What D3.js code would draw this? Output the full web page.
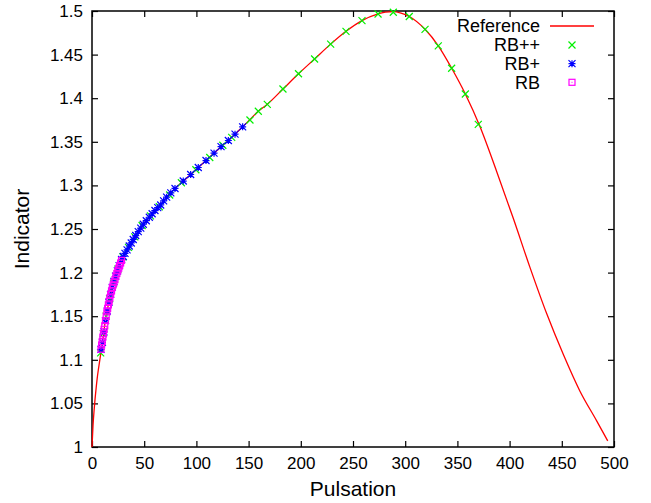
<!DOCTYPE html>
<html><head><meta charset="utf-8">
<script src="https://cdn.jsdelivr.net/npm/d3@7"></script>
<style>body{margin:0;background:#fff}svg{display:block}text{font-family:"Liberation Sans",Arial,Helvetica,sans-serif}</style>
</head><body><svg id="c" width="651" height="503"></svg>
<script>
const xTicks = [0,50,100,150,200,250,300,350,400,450,500];
const yTicks = [1,1.05,1.1,1.15,1.2,1.25,1.3,1.35,1.4,1.45,1.5];

const refX = [0,1,2,3,4,5,6,7,8,9,10,11,12.4,14,15.5,17,18.8,21,23.5,26,28.3,31.6,35.7,39.5,44.3,49.1,54.9,60.3,65.8,71.5,79.5,87.4,94.5,101.8,109.2,116.9,123.6,130.6,137,144.3,151.3,159.3,167.9,182.9,197.8,213.2,228.6,243.3,258.6,274,281,288.6,296,303.9,319,331.7,344.5,357.6,371.6,387.6,403.6,419.5,435.5,451.5,467.4,483.4,494];
const refY = [1,1.025,1.042,1.056,1.068,1.079,1.088,1.096,1.104,1.112,1.12,1.128,1.142,1.153,1.162,1.171,1.18,1.19,1.2,1.208,1.215,1.222,1.2305,1.238,1.247,1.2555,1.2635,1.2712,1.2775,1.2865,1.2965,1.305,1.3125,1.3205,1.3285,1.337,1.3444,1.3515,1.3588,1.3672,1.3755,1.385,1.393,1.4105,1.428,1.445,1.462,1.4767,1.489,1.4966,1.4988,1.4992,1.4975,1.4937,1.479,1.46,1.4343,1.4048,1.3675,1.316,1.262,1.206,1.153,1.106,1.064,1.03,1.007];

const rbppX = [8.3,10.8,13.6,16.9,20.6,24.8,29.6,35,41,48,56,64.5,74.4,85.6,99.5,112.8,125.3,133.8,151.3,159.3,167.9,182.9,197.8,213.2,228.6,243.3,258.6,274,288.6,303.9,319,331.7,344.5,357.6,370];
const rbppY = [1.108,1.13,1.15,1.17,1.188,1.204,1.218,1.229,1.241,1.254,1.265,1.2755,1.289,1.303,1.318,1.332,1.346,1.355,1.375,1.385,1.393,1.4105,1.428,1.445,1.462,1.4767,1.489,1.4966,1.4986,1.4937,1.479,1.46,1.4343,1.4048,1.37];

const rbpX = [8.6,10,11.5,13,14.6,16.2,17.8,19.4,21,22.6,24.3,26,28.3,30,31.6,33.6,35.7,37.6,39.5,41.9,44.3,46.7,49.1,52,54.9,57.6,60.3,63,65.8,68.6,71.5,75.5,79.5,87.4,94.5,101.8,109.2,116.9,123.6,130.6,137,144.3];
const rbpY = [1.112,1.12,1.132,1.145,1.156,1.166,1.175,1.183,1.19,1.196,1.202,1.208,1.215,1.2185,1.222,1.226,1.2305,1.234,1.238,1.2425,1.247,1.251,1.2555,1.2595,1.2635,1.2675,1.2712,1.2745,1.2775,1.2822,1.2865,1.2915,1.2965,1.305,1.3125,1.3205,1.3285,1.337,1.3444,1.3515,1.3588,1.3672];

const rbX = [8.6,9.2,9.8,10.4,11,11.6,12.2,12.9,13.6,14.3,15,15.7,16.4,17.1,17.9,18.7,19.5,20.3,21.1,22,22.9,23.8,24.7,25.6,26.5,27.4,28.3];
const rbY = [1.112,1.117,1.121,1.126,1.13,1.135,1.139,1.145,1.15,1.155,1.159,1.163,1.167,1.171,1.175,1.179,1.183,1.186,1.189,1.192,1.196,1.199,1.202,1.205,1.208,1.211,1.214];

const legendLabels = ["Reference","RB++","RB+","RB"];
const colors = {ref:"#ff0000", rbpp:"#00f000", rbp:"#0000ff", rb:"#ff00ff"};

const svg = d3.select("#c");
const m = {l:92, r:37, t:11, b:56};
const W = 651, H = 503;
const x = d3.scaleLinear().domain([0,500]).range([m.l, W-m.r]);
const y = d3.scaleLinear().domain([1,1.5]).range([H-m.b, m.t]);

const fmt = d => d3.format("~g")(d);
const tl = 6;
const gB = svg.append("g").attr("transform",`translate(0,${H-m.b})`).call(d3.axisBottom(x).tickValues(xTicks).tickFormat(fmt).tickSizeInner(-tl).tickSizeOuter(0).tickPadding(10));
const gT = svg.append("g").attr("transform",`translate(0,${m.t})`).call(d3.axisTop(x).tickValues(xTicks).tickFormat("").tickSizeInner(-tl).tickSizeOuter(0));
const gL = svg.append("g").attr("transform",`translate(${m.l},0)`).call(d3.axisLeft(y).tickValues(yTicks).tickFormat(fmt).tickSizeInner(-tl).tickSizeOuter(0).tickPadding(9));
const gR = svg.append("g").attr("transform",`translate(${W-m.r},0)`).call(d3.axisRight(y).tickValues(yTicks).tickFormat("").tickSizeInner(-tl).tickSizeOuter(0));
[gB,gT,gL,gR].forEach(g=>{
  g.select(".domain").remove();
  g.selectAll(".tick line").attr("stroke","#000").attr("stroke-width",1.2);
  g.selectAll("text").attr("fill","#000").style("font-size","17px");
});
svg.append("rect").attr("x",m.l).attr("y",m.t).attr("width",W-m.l-m.r).attr("height",H-m.t-m.b)
  .attr("fill","none").attr("stroke","#000").attr("stroke-width",1.5);

const refData = refX.map((v,i)=>[v,refY[i]]);
svg.append("path").datum(refData).attr("fill","none").attr("stroke",colors.ref).attr("stroke-width",1.3)
  .attr("d", d3.line().x(d=>x(d[0])).y(d=>y(d[1])).curve(d3.curveMonotoneX));

const s = 3.5;
function cross(g, cx, cy, col){
  g.append("path").attr("d",`M${cx-s},${cy-s}L${cx+s},${cy+s}M${cx-s},${cy+s}L${cx+s},${cy-s}`).attr("stroke",col).attr("stroke-width",1.2).attr("fill","none");
}
function star(g, cx, cy, col){
  g.append("path").attr("d",`M${cx-s},${cy-s}L${cx+s},${cy+s}M${cx-s},${cy+s}L${cx+s},${cy-s}M${cx-s},${cy}L${cx+s},${cy}M${cx},${cy-s}L${cx},${cy+s}`).attr("stroke",col).attr("stroke-width",1.2).attr("fill","none");
}
function square(g, cx, cy, col){
  g.append("rect").attr("x",cx-3).attr("y",cy-3).attr("width",6).attr("height",6).attr("stroke",col).attr("stroke-width",1.2).attr("fill","none");
  g.append("rect").attr("x",cx-0.5).attr("y",cy-0.5).attr("width",1).attr("height",1).attr("fill",col);
}
const gpp = svg.append("g");
rbppX.forEach((v,i)=>cross(gpp, x(v), y(rbppY[i]), colors.rbpp));
const gp = svg.append("g");
rbpX.forEach((v,i)=>star(gp, x(v), y(rbpY[i]), colors.rbp));
const gr = svg.append("g");
rbX.forEach((v,i)=>square(gr, x(v), y(rbY[i]), colors.rb));

const lg = svg.append("g");
const rowY = [26,45,63.7,82.3];
legendLabels.forEach((t,i)=>{
  lg.append("text").attr("x",540).attr("y",rowY[i]).attr("dy","0.35em").attr("text-anchor","end").style("font-size","18px").attr("fill","#000").text(t);
});
lg.append("line").attr("x1",550).attr("x2",594).attr("y1",rowY[0]).attr("y2",rowY[0]).attr("stroke",colors.ref).attr("stroke-width",1.3);
cross(lg, 572, rowY[1], colors.rbpp);
star(lg, 572, rowY[2], colors.rbp);
square(lg, 572, rowY[3], colors.rb);

svg.append("text").attr("x",(m.l+W-m.r)/2).attr("y",496).attr("text-anchor","middle").style("font-size","21px").attr("fill","#000").text("Pulsation");
svg.append("text").attr("transform",`translate(29,${(m.t+H-m.b)/2}) rotate(-90)`).attr("text-anchor","middle").style("font-size","21px").attr("fill","#000").text("Indicator");
</script></body></html>
